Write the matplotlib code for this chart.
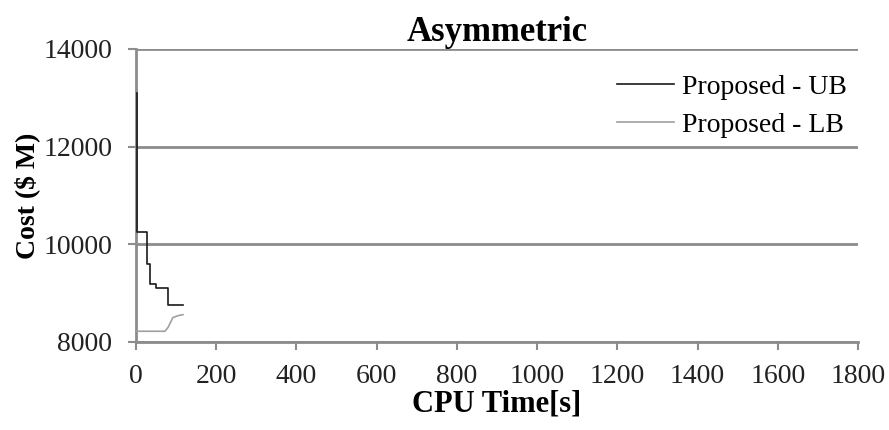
import numpy as np
import matplotlib.pyplot as plt

# upper bound (step curve)
ub_t = [2, 3, 25, 27, 35, 50, 77, 79, 117]
ub_cost = [13100, 10260, 10260, 9600, 9180, 9110, 9110, 8750, 8750]

# lower bound
lb_t = [2, 72, 80, 92, 105, 117]
lb_cost = [8220, 8220, 8300, 8500, 8540, 8560]

x_ticks = np.arange(0, 1801, 200)
y_ticks = [8000, 10000, 12000, 14000]

plt.rcParams['font.family'] = ['Liberation Serif', 'DejaVu Serif']

fig = plt.figure(figsize=(8.89, 4.30), dpi=100)
ax = fig.add_axes([136/889, 1-342/430, (858-136)/889, (342-49)/430])

ax.step(ub_t, ub_cost, where='post', color='#1a1a1a', lw=1.2, label='Proposed - UB', zorder=4)
ax.plot(lb_t, lb_cost, color='#a0a0a0', lw=1.2, label='Proposed - LB', zorder=4)

ax.set_xlim(0, 1800)
ax.set_ylim(8000, 14000)
ax.set_xticks(x_ticks)
ax.set_yticks(y_ticks)
ax.grid(axis='y', color='#8c8c8c', lw=2)
ax.set_axisbelow(True)
for s in ['top', 'right']:
    ax.spines[s].set_visible(False)
for s in ['left', 'bottom']:
    ax.spines[s].set_color('#8c8c8c')
    ax.spines[s].set_linewidth(2)
ax.tick_params(direction='out', length=6, width=1.5, color='#8c8c8c', labelsize=20,
               labelcolor='#222222')
ax.tick_params(axis='x', pad=10)
ax.tick_params(axis='y', pad=11)

ax.set_title('Asymmetric', fontsize=25, fontweight='bold', pad=5)
ax.set_xlabel('CPU Time[s]', fontsize=22, fontweight='bold', labelpad=0)
ax.set_ylabel('Cost ($ M)', fontsize=20, fontweight='bold', labelpad=2)
ax.legend(loc='upper right', frameon=False, fontsize=20, handlelength=2.05, handletextpad=0.3,
          labelspacing=0.45, borderaxespad=0, bbox_to_anchor=(1.0, 0.95))

fig.savefig('out.png', dpi=100)
